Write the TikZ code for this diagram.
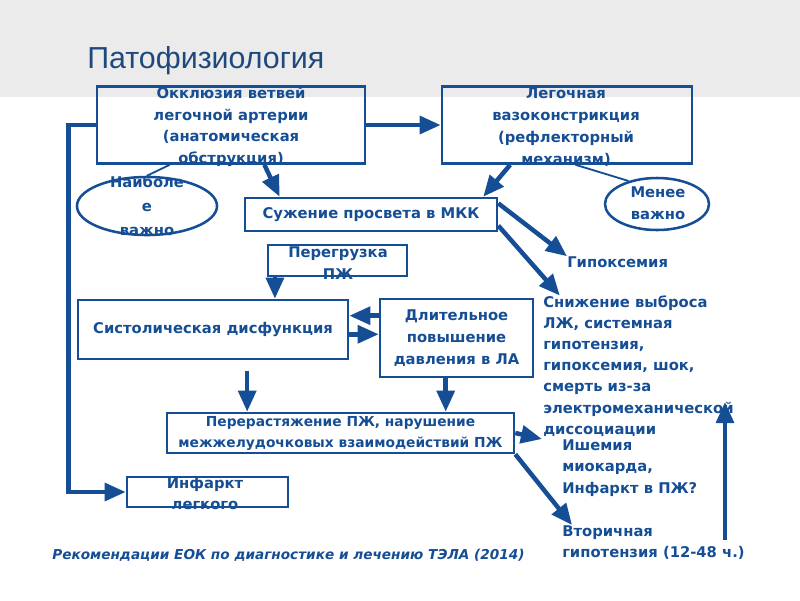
\documentclass[tikz,border=0pt]{standalone}
\usepackage{fontspec}
\setmainfont{DejaVu Sans}
\newfontfamily\titlefont{Liberation Sans}
\usetikzlibrary{arrows.meta,shapes.geometric}
\definecolor{diagblue}{RGB}{21,78,148}
\definecolor{titleblue}{RGB}{31,73,125}
\definecolor{bandgray}{RGB}{235,235,235}
\newcommand\boxfont{\fontsize{10.5}{15.5}\selectfont\bfseries}

\begin{document}
\begin{tikzpicture}[x=0.025cm, y=-0.025cm,
    box/.style={draw=diagblue, line width=1.8pt, inner sep=0pt},
    oval/.style={ellipse, draw=diagblue, line width=1.8pt, inner sep=0pt},
    words/.style={text=diagblue, font=\boxfont, align=center, inner sep=0pt},
    link/.style={draw=diagblue, line width=3.2pt, -{Triangle[length=15pt,width=12.5pt]}},
    hair/.style={draw=diagblue, line width=1.3pt}]
        \useasboundingbox (0,0) rectangle (800,600);

        % Header
        \fill[bandgray] (0,0) rectangle (800,97);
        \node[anchor=west, text=titleblue, font=\titlefont\fontsize{21.6}{25}\selectfont, inner sep=0pt] (title) at (87,61) {Патофизиология};

        % Causes
        \node[box, minimum width=6.7cm, minimum height=1.925cm] (occl) at (231,125) {};
        \node[words] (occl text) at (231,127) {Окклюзия ветвей\\легочной артерии\\(анатомическая\\обструкция)};
        \node[box, minimum width=6.25cm, minimum height=1.925cm] (vaso) at (567,125) {};
        \node[words] (vaso text) at (566,127) {Легочная\\вазоконстрикция\\(рефлекторный\\механизм)};
        \draw[link] (occl.east) -- (vaso.west);

        % Weight of the causes
        \node[oval, minimum width=3.5cm, minimum height=1.45cm] (major) at (147,206) {};
        \node[words, font=\fontsize{10.5}{17}\selectfont\bfseries] (major text) at (147,206) {Наиболе\\е\\важно};
        \draw[hair] (occl.213) -- (major.north);
        \node[oval, minimum width=2.6cm, minimum height=1.3cm] (minor) at (657,204) {};
        \node[words] (minor text) at (658,203) {Менее\\важно};
        \draw[hair] (vaso.-78) -- (minor.141);

        % Pulmonary flow
        \node[box, words, minimum width=6.3cm, minimum height=0.825cm] (flow) at (371,214.5) {Сужение просвета в МКК};
        \draw[link] (occl.-50) -- (flow.169);
        \draw[link] (vaso.215) -- (flow.9.7);
        \node[words, anchor=west] (hypox) at (567,262) {Гипоксемия};
        \draw[link] (flow.5) -- (hypox.north west);
        \node[words, align=left, anchor=west, font=\fontsize{10.5}{15}\selectfont\bfseries] (shock) at (543,366) {Снижение выброса\\ЛЖ, системная\\гипотензия,\\гипоксемия, шок,\\смерть из-за\\электромеханической\\диссоциации};
        \draw[link] (flow.-5) -- ([xshift=0.42cm]shock.north west);

        % Right ventricle
        \node[box, minimum width=3.475cm, minimum height=0.775cm] (rvload) at (337.5,260.5) {};
        \node[words] (rvload text) at (338,263) {Перегрузка\\ПЖ};
        \node[box, words, minimum width=6.75cm, minimum height=1.475cm] (output) at (213,329.5) {Систолическая дисфункция};
        \node[box, words, minimum width=3.825cm, minimum height=1.95cm] (pah) at (456.5,338) {Длительное\\повышение\\давления в ЛА};
        \draw[link] (rvload.195) -- (rvload.195 |- output.north);
        \draw[link] (pah.164.6) -- (pah.164.6 -| output.east);
        \draw[link] (output.-2.3) -- (output.-2.3 -| pah.west);
        \node[box, words, font=\fontsize{9.8}{15}\selectfont\bfseries, minimum width=8.675cm, minimum height=1cm] (rvdam) at (340.5,433) {Перерастяжение ПЖ, нарушение\\межжелудочковых взаимодействий ПЖ};
        \draw[link, shorten <=0.28cm] (output.-42.7) -- (output.-42.7 |- rvdam.north);
        \draw[link] (pah.-105) -- (pah.-105 |- rvdam.north);

        % Outcomes
        \node[words, align=left, anchor=west] (ischem) at (562,468) {Ишемия\\миокарда,\\Инфаркт в ПЖ?};
        \draw[link] (rvdam.east) -- ([xshift=-0.5cm]ischem.north west);
        \node[words, align=left, anchor=west] (late) at (562,542.5) {Вторичная\\гипотензия (12-48 ч.)};
        \draw[link] (rvdam.south east) -- ([xshift=0.25cm]late.north west);
        \coordinate (rise) at (725,540);
        \coordinate (peak) at (725,402);
        \draw[link] (rise) -- (peak);

        % Lung infarction
        \node[box, minimum width=4.025cm, minimum height=0.75cm] (infarct) at (207.5,492) {};
        \node[words] (infarct text) at (205,493.5) {Инфаркт\\легкого};
        \draw[link] (occl.west) -- ++(-27,0) |- (infarct.west);

        % Source
        \node[text=diagblue, font=\fontsize{9.7}{12}\selectfont\bfseries\itshape, anchor=west, inner sep=0pt] (source) at (52,555) {Рекомендации ЕОК по диагностике и лечению ТЭЛА (2014)};
    \end{tikzpicture}
\end{document}
